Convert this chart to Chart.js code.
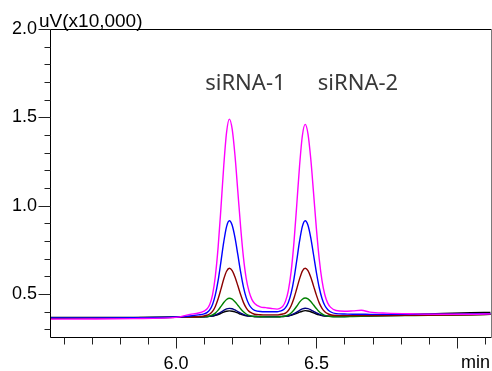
<!DOCTYPE html>
<html><head><meta charset="utf-8">
<script src="https://cdn.jsdelivr.net/npm/chart.js@4.4.1/dist/chart.umd.min.js"></script>
<style>html,body{margin:0;padding:0;background:#fff;}canvas{display:block;}</style>
</head><body>
<canvas id="c" width="492" height="371"></canvas>
<script>
// Retention time (min)
const times = [5.55,5.70,5.85,6.00,6.05,6.08,
  6.10,6.11,6.12,6.13,6.14,6.15,6.16,6.17,6.18,6.19,6.20,6.21,6.22,6.23,6.24,6.25,6.26,6.27,6.28,
  6.30,6.32,6.34,6.36,
  6.37,6.38,6.39,6.40,6.41,6.42,6.43,6.44,6.45,6.46,6.47,6.48,6.49,6.50,6.51,6.52,6.53,6.54,6.55,
  6.57,6.60,6.63,6.66,6.69,6.75,6.85,6.95,7.05,7.12];
// Signal (uV x10,000)
const magentaTrace = [.358,.359,.361,.368,.385,.393,
  .404,.415,.441,.496,.601,.767,.988,1.226,1.415,1.49,1.433,1.284,1.083,.881,.709,.588,.515,.470,.447,
  .428,.423,.418,.415,
  .419,.430,.460,.520,.627,.791,1.004,1.225,1.396,1.46,1.407,1.264,1.070,.870,.700,.576,.496,.450,.426,
  .407,.403,.405,.408,.398,.392,.388,.386,.386,.388];
const blueTrace = [.365,.365,.366,.370,.376,.382,
  .388,.395,.410,.441,.495,.577,.684,.795,.882,.915,.889,.819,.724,.625,.541,.480,.441,.419,.408,
  .401,.400,.400,.400,
  .403,.409,.423,.452,.505,.585,.690,.799,.883,.915,.889,.818,.721,.622,.537,.475,.435,.413,.400,
  .389,.387,.386,.386,.385,.385,.385,.386,.387,.389];
const brownTrace = [.362,.363,.365,.368,.370,.372,
  .376,.380,.387,.402,.430,.473,.528,.585,.629,.646,.633,.597,.548,.497,.453,.422,.402,.392,.386,
  .383,.382,.382,.382,
  .384,.387,.392,.407,.434,.476,.530,.586,.630,.646,.632,.595,.545,.494,.450,.419,.400,.389,.383,
  .379,.378,.378,.378,.378,.379,.380,.381,.383,.385];
const greenTrace = [.364,.365,.366,.368,.369,.370,
  .372,.373,.376,.382,.392,.409,.430,.452,.469,.476,.471,.456,.437,.417,.400,.387,.379,.375,.373,
  .372,.371,.371,.371,
  .372,.373,.376,.382,.393,.410,.431,.454,.471,.478,.473,.458,.438,.418,.400,.388,.379,.375,.373,
  .372,.372,.373,.374,.375,.377,.379,.381,.383,.385];
const navyTrace = [.365,.365,.366,.368,.369,.370,
  .371,.372,.374,.377,.382,.389,.398,.408,.416,.419,.417,.410,.401,.392,.385,.379,.376,.374,.373,
  .372,.372,.372,.372,
  .372,.373,.374,.377,.382,.389,.398,.408,.416,.420,.418,.411,.402,.393,.386,.380,.377,.375,.374,
  .373,.373,.374,.375,.376,.378,.380,.382,.384,.386];
const blackTrace = [.367,.367,.368,.370,.371,.372,
  .372,.373,.374,.375,.379,.384,.391,.398,.403,.405,.403,.399,.393,.386,.381,.377,.375,.374,.373,
  .373,.373,.373,.373,
  .373,.374,.375,.376,.380,.385,.391,.398,.403,.406,.404,.400,.394,.387,.382,.378,.376,.375,.375,
  .375,.376,.377,.378,.379,.382,.386,.390,.394,.396];
// Axis tick labels
const yTickValues = [0.5, 1.0, 1.5, 2.0];
const xTickValues = [6.0, 6.5, 7.0];
const xTickLabels = ['6.0', '6.5', ''];
const yUnitLabel = 'uV(x10,000)';
const xUnitLabel = 'min';
const peakNames = ['siRNA-1', 'siRNA-2'];
const peakNameTimes = [6.247, 6.648];
const peakNameLevel = 1.655;

const FONT = '"Liberation Sans", Arial, sans-serif';
const toXY = arr => times.map((t, i) => ({x: t, y: arr[i]}));
const mk = (arr, color) => ({data: toXY(arr), borderColor: color, borderWidth: 1.4,
  pointRadius: 0, fill: false, cubicInterpolationMode: 'monotone'});

const decor = {
  id: 'decor',
  afterDraw(chart) {
    const {ctx, chartArea: a, scales: {x, y}} = chart;
    ctx.save();
    ctx.lineWidth = 1;
    ctx.strokeStyle = '#000';
    ctx.beginPath();
    ctx.moveTo(a.left + 0.5, a.top + 0.5);
    ctx.lineTo(a.left + 0.5, a.bottom + 0.5);
    ctx.lineTo(a.right + 0.5, a.bottom + 0.5);
    ctx.moveTo(a.left + 0.5, a.top + 0.5);
    ctx.lineTo(a.right + 0.5, a.top + 0.5);
    ctx.stroke();
    ctx.strokeStyle = '#7a7a7a';
    ctx.beginPath();
    ctx.moveTo(a.right + 0.5, a.top + 0.5);
    ctx.lineTo(a.right + 0.5, a.bottom + 0.5);
    ctx.stroke();
    ctx.strokeStyle = '#222';
    ctx.beginPath();
    for (let k = 3; k <= 20; k++) {
      const py = Math.round(y.getPixelForValue(k / 10)) + 0.5;
      const len = (k % 5 === 0) ? 12 : 6;
      ctx.moveTo(a.left + 0.5 - len, py);
      ctx.lineTo(a.left + 0.5, py);
    }
    for (let k = 56; k <= 71; k++) {
      const px = Math.round(x.getPixelForValue(k / 10)) + 0.5;
      const len = (k % 5 === 0) ? 11 : 7;
      ctx.moveTo(px, a.bottom + 0.5);
      ctx.lineTo(px, a.bottom + 0.5 + len);
    }
    ctx.stroke();
    ctx.fillStyle = '#000';
    ctx.font = '19px ' + FONT;
    ctx.textAlign = 'left';
    ctx.textBaseline = 'alphabetic';
    ctx.fillText(yUnitLabel, 39, 27);
    ctx.font = '18px ' + FONT;
    ctx.textAlign = 'right';
    ctx.fillText(xUnitLabel, 490, 368);
    ctx.font = '22px "Noto Sans"';
    ctx.fillStyle = '#383838';
    ctx.textAlign = 'center';
    peakNames.forEach((n, i) => {
      ctx.fillText(n, x.getPixelForValue(peakNameTimes[i]), y.getPixelForValue(peakNameLevel));
    });
    ctx.restore();
  }
};

new Chart(document.getElementById('c'), {
  type: 'line',
  data: {datasets: [
    mk(magentaTrace, '#ff00ff'),
    mk(blueTrace, '#0000ff'),
    mk(brownTrace, '#8b0000'),
    mk(greenTrace, '#008000'),
    mk(navyTrace, '#000080'),
    mk(blackTrace, '#000000')
  ]},
  options: {
    responsive: false, animation: false, devicePixelRatio: 1,
    layout: {padding: {top: 29, right: 1, left: 0, bottom: 0}},
    plugins: {legend: {display: false}, tooltip: {enabled: false}},
    scales: {
      x: {type: 'linear', min: 5.551, max: 7.122,
        grid: {display: false, drawTicks: false}, border: {display: false},
        afterBuildTicks: s => { s.ticks = xTickValues.map(v => ({value: v})); },
        afterFit: s => { s.height = 34; },
        ticks: {padding: 16, color: '#000', maxRotation: 0, autoSkip: false,
          font: {family: FONT, size: 18},
          callback: (v) => { const i = xTickValues.findIndex(t => Math.abs(t - v) < 1e-6); return i >= 0 ? xTickLabels[i] : ''; }}
      },
      y: {type: 'linear', min: 0.257, max: 2.0,
        grid: {display: false, drawTicks: false}, border: {display: false},
        afterBuildTicks: s => { s.ticks = yTickValues.map(v => ({value: v})); },
        afterFit: s => { s.width = 50; },
        ticks: {padding: 13, color: '#000', font: {family: FONT, size: 18},
          callback: v => v.toFixed(1)}
      }
    }
  },
  plugins: [decor]
});
</script>
</body></html>
